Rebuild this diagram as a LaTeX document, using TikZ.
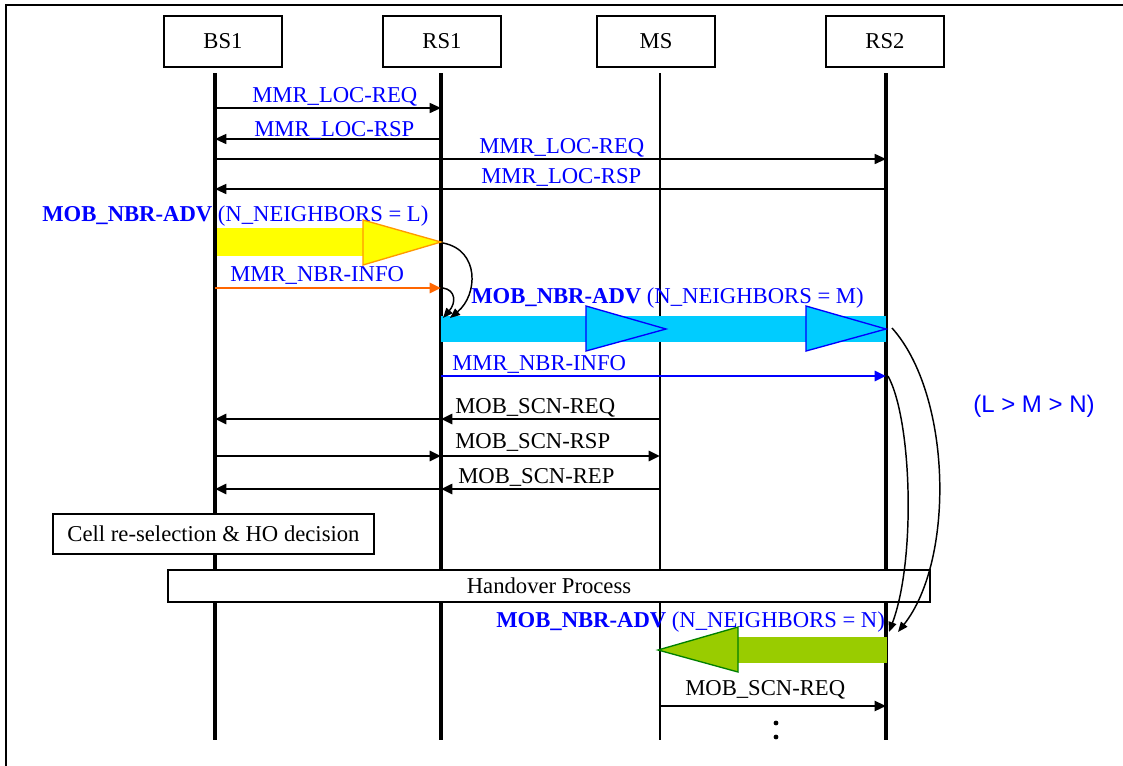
\documentclass[tikz,border=0pt]{standalone}
\usepackage{fontspec}
\setmainfont{Liberation Serif}
\newfontfamily\sansf{Liberation Sans}
\usetikzlibrary{arrows.meta,positioning,calc}
\definecolor{msgblue}{HTML}{0000FF}
\definecolor{infoorange}{HTML}{FF6600}
\definecolor{advyellow}{HTML}{FFFF00}
\definecolor{advedge}{HTML}{FF9900}
\definecolor{advcyan}{HTML}{00CCFF}
\definecolor{advgreen}{HTML}{99CC00}
\definecolor{greenedge}{HTML}{008000}

\begin{document}
\begin{tikzpicture}[x=0.75pt,y=-0.75pt,
  font=\fontsize{17}{20}\selectfont,
  head/.style={draw,line width=1.7pt,minimum width=88.5pt,minimum height=38pt,inner sep=0pt},
  life/.style={line width=2.6pt},
  msg/.style={-{Triangle[length=8.5pt,width=7.5pt]},line width=1.2pt},
  scn/.style={msg,line width=2pt},
  lbl/.style={inner sep=0pt,anchor=base west,text=msgblue},
  blk/.style={inner sep=0pt,anchor=base west},
  bendarr/.style={-{Triangle[length=7.5pt,width=6pt]},line width=1.1pt},
  note/.style={draw,line width=1.5pt,fill=white,inner sep=0pt}]

\useasboundingbox (0,0) rectangle (1123,765);
\draw[line width=1.8pt] (6,790) -- (6,5) -- (1150,5);

% ---- entities and lifelines
\node[head] (bs1) at (223,41.5) {BS1};
\node[head] (rs1) at (442,41.5) {RS1};
\node[head] (ms)  at (656,41.5) {MS};
\node[head] (rs2) at (885,41.5) {RS2};
\coordinate (bs1t) at (215,73); \coordinate (bs1b) at (215,740);
\coordinate (rs1t) at (441,73); \coordinate (rs1b) at (441,740);
\coordinate (mst)  at (660,73); \coordinate (msb)  at (660,740);
\coordinate (rs2t) at (886,73); \coordinate (rs2b) at (886,740);
\draw[life] (bs1t) -- (bs1b);
\draw[life] (rs1t) -- (rs1b);
\draw[life,line width=1.9pt] (mst) -- (msb);
\draw[life] (rs2t) -- (rs2b);

% ---- location exchange
\draw[msg] (bs1t |- 0,108) -- (rs1t |- 0,108);
\node[lbl] (locreq1) at (252,102) {MMR\_LOC-REQ};
\draw[msg] (rs1t |- 0,139) -- (bs1t |- 0,139);
\node[lbl] (locrsp1) at (254,136) {MMR\_LOC-RSP};
\draw[msg] (bs1t |- 0,159) -- (rs2t |- 0,159);
\node[lbl] (locreq2) at (479,153) {MMR\_LOC-REQ};
\draw[msg] (rs2t |- 0,189) -- (bs1t |- 0,189);
\node[lbl] (locrsp2) at (481,183) {MMR\_LOC-RSP};

% ---- neighbour advertisement, L neighbours
\node[lbl] (advL) at (42,221) {\textbf{MOB\_NBR-ADV} (N\_NEIGHBORS = L)};
\fill[advyellow] (217,228) rectangle (363,256);
\filldraw[fill=advyellow,draw=advedge,line width=1pt] (363,220) -- (441,242) -- (363,265) -- cycle;
\coordinate (tipL) at (443,243);
\node[lbl] (infoL) at (230,281) {MMR\_NBR-INFO};
\draw[msg,infoorange,line width=2.2pt] (bs1t |- 0,288) -- (rs1t |- 0,288);
\coordinate (endO) at (443,288);

% ---- neighbour advertisement, M neighbours
\node[lbl] (advM) at (471,303) {\textbf{MOB\_NBR-ADV} (N\_NEIGHBORS = M)};
\fill[advcyan] (441,316) rectangle (886,342);
\filldraw[fill=advcyan,draw=msgblue,line width=1pt] (586,306) -- (666,329) -- (586,351) -- cycle;
\filldraw[fill=advcyan,draw=msgblue,line width=1pt] (806,306) -- (886,329) -- (806,351) -- cycle;
\coordinate (inM1) at (450,318);
\coordinate (inM2) at (443,318);
\coordinate (tipM) at (892,328);
\node[lbl] (infoM) at (452,370) {MMR\_NBR-INFO};
\draw[msg,msgblue,line width=2.2pt] (rs1t |- 0,376) -- (rs2t |- 0,376);
\coordinate (endB) at (888,376);
\draw[bendarr] (tipL) .. controls (480,250) and (478,295) .. (inM1);
\draw[bendarr] (endO) .. controls (456,290) and (456,303) .. (inM2);

\node[text=msgblue,inner sep=0pt,anchor=base west,font=\sansf\fontsize{18}{21}\selectfont] (order) at (973,412) {(L > M > N)};

% ---- scanning
\draw[scn] (mst |- 0,419) -- (rs1t |- 0,419);
\draw[scn] (rs1t |- 0,419) -- (bs1t |- 0,419);
\node[blk] (scnreq) at (455,413) {MOB\_SCN-REQ};
\draw[scn] (bs1t |- 0,456) -- (rs1t |- 0,456);
\draw[scn] (rs1t |- 0,456) -- (mst |- 0,456);
\node[blk] (scnrsp) at (455,448) {MOB\_SCN-RSP};
\draw[scn] (mst |- 0,489) -- (rs1t |- 0,489);
\draw[scn] (rs1t |- 0,489) -- (bs1t |- 0,489);
\node[blk] (scnrep) at (458,483) {MOB\_SCN-REP};

% ---- decision and handover
\node[note,minimum width=240.75pt,minimum height=30pt] (cellsel) at (213.5,534) {Cell re-selection \& HO decision};
\node[note,minimum width=571.5pt,minimum height=24pt] (hoproc) at (549,586) {Handover Process};

% ---- neighbour advertisement, N neighbours
\node[lbl] (advN) at (496,627) {\textbf{MOB\_NBR-ADV} (N\_NEIGHBORS = N)};
\fill[advgreen] (738,637) rectangle (887,663);
\filldraw[fill=advgreen,draw=greenedge,line width=1pt] (738,627) -- (658,650) -- (738,672) -- cycle;
\coordinate (inN1) at (898,632);
\coordinate (inN2) at (889,632);
\draw[bendarr] (tipM) .. controls (952,395) and (955,560) .. (inN1);
\draw[bendarr] (endB) .. controls (912,420) and (916,560) .. (inN2);

\draw[msg,line width=1.6pt] (mst |- 0,706) -- (rs2t |- 0,706);
\node[blk] (scnreq2) at (685,695) {MOB\_SCN-REQ};
\fill (776,723) circle (1.8pt);
\fill (776,737) circle (1.8pt);
\end{tikzpicture}
\end{document}
